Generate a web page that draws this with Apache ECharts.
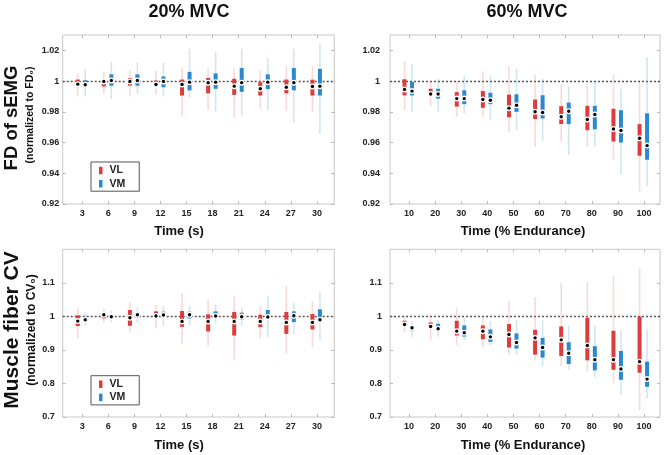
<!DOCTYPE html>
<html>
<head>
<meta charset="utf-8">
<script src="https://cdn.jsdelivr.net/npm/echarts@6/dist/echarts.min.js"></script>
<style>
html,body{margin:0;padding:0;background:#fff;}
#chart{width:666px;height:455px;}
</style>
</head>
<body>
<div id="chart"></div>
<script>
// ---- Data: each box = [lower whisker, Q1, median, Q3, upper whisker] ----
const time20 = [3, 6, 9, 12, 15, 18, 21, 24, 27, 30];
const time60 = [10, 20, 30, 40, 50, 60, 70, 80, 90, 100];

const fdTicks = [0.92, 0.94, 0.96, 0.98, 1.00, 1.02];
const cvTicks = [0.7, 0.8, 0.9, 1.0, 1.1];

const fd20VL = [
  [0.990, 0.997, 0.998, 1.001, 1.005],
  [0.992, 0.9965, 0.9998, 1.001, 1.006],
  [0.990, 0.997, 0.9998, 1.002, 1.007],
  [0.991, 0.9965, 0.9978, 1.0004, 1.0065],
  [0.9775, 0.9906, 0.9978, 1.001, 1.009],
  [0.9815, 0.992, 0.999, 1.002, 1.008],
  [0.9765, 0.991, 0.9967, 1.0015, 1.009],
  [0.982, 0.9906, 0.995, 0.9993, 1.007],
  [0.981, 0.992, 0.996, 1.001, 1.0096],
  [0.980, 0.9906, 0.9965, 1.0009, 1.0096]
];
const fd20VM = [
  [0.990, 0.996, 0.9976, 1.0005, 1.008],
  [0.9885, 0.997, 1.0004, 1.0044, 1.0124],
  [0.9917, 0.997, 1.0004, 1.0044, 1.012],
  [0.990, 0.996, 0.9998, 1.003, 1.012],
  [0.9895, 0.994, 0.9993, 1.006, 1.021],
  [0.980, 0.995, 0.9993, 1.005, 1.019],
  [0.9775, 0.993, 0.999, 1.0085, 1.021],
  [0.981, 0.9948, 0.9993, 1.0044, 1.015],
  [0.973, 0.994, 0.999, 1.0085, 1.021],
  [0.9655, 0.9906, 0.9967, 1.008, 1.0244]
];
const fd60VL = [
  [0.9812, 0.9907, 0.9946, 1.0012, 1.0128],
  [0.9838, 0.9907, 0.9916, 0.9950, 0.9999],
  [0.9768, 0.9834, 0.9886, 0.9928, 1.0000],
  [0.9768, 0.9826, 0.9880, 0.9935, 1.0064],
  [0.9668, 0.9765, 0.9824, 0.9912, 1.0100],
  [0.9574, 0.9753, 0.9800, 0.9880, 1.0040],
  [0.9607, 0.9720, 0.9768, 0.9837, 0.9980],
  [0.9574, 0.9680, 0.9750, 0.9839, 0.9980],
  [0.9488, 0.9607, 0.9688, 0.9820, 1.0043],
  [0.9280, 0.9514, 0.9628, 0.9720, 0.9990]
];
const fd60VM = [
  [0.9800, 0.9907, 0.9935, 0.9994, 1.0110],
  [0.9800, 0.9886, 0.9916, 0.9950, 1.0015],
  [0.9790, 0.9850, 0.9886, 0.9940, 1.0037],
  [0.9745, 0.9850, 0.9875, 0.9924, 1.0037],
  [0.9680, 0.9800, 0.9843, 0.9914, 1.0080],
  [0.9610, 0.9757, 0.9796, 0.9908, 1.0015],
  [0.9520, 0.9720, 0.9804, 0.9860, 0.9966],
  [0.9574, 0.9686, 0.9783, 0.9839, 0.9994],
  [0.9390, 0.9600, 0.9678, 0.9810, 0.9950],
  [0.9316, 0.9488, 0.9580, 0.9790, 1.0155]
];
const cv20VL = [
  [0.935, 0.971, 0.986, 1.003, 1.025],
  [0.982, 0.994, 1.005, 1.010, 1.022],
  [0.955, 0.972, 0.996, 1.019, 1.042],
  [0.964, 0.994, 1.001, 1.015, 1.034],
  [0.918, 0.969, 0.985, 1.016, 1.068],
  [0.911, 0.955, 0.985, 1.006, 1.050],
  [0.869, 0.943, 0.985, 1.013, 1.060],
  [0.934, 0.968, 0.985, 1.005, 1.030],
  [0.889, 0.948, 0.982, 1.013, 1.091],
  [0.909, 0.961, 0.982, 1.007, 1.045]
];
const cv20VM = [
  [0.972, 0.987, 0.990, 0.999, 1.012],
  [0.982, 0.994, 0.999, 1.006, 1.017],
  [0.982, 0.997, 1.005, 1.010, 1.027],
  [0.972, 0.996, 1.004, 1.014, 1.032],
  [0.972, 0.994, 1.005, 1.014, 1.032],
  [0.978, 0.999, 1.001, 1.015, 1.036],
  [0.972, 0.990, 0.999, 1.011, 1.027],
  [0.939, 0.997, 0.998, 1.019, 1.060],
  [0.945, 0.983, 1.002, 1.015, 1.041],
  [0.929, 0.988, 0.990, 1.021, 1.073]
];
const cv60VL = [
  [0.953, 0.972, 0.976, 0.987, 1.002],
  [0.931, 0.963, 0.970, 0.982, 1.002],
  [0.914, 0.943, 0.956, 0.987, 1.026],
  [0.909, 0.932, 0.956, 0.973, 0.999],
  [0.885, 0.907, 0.946, 0.977, 1.046],
  [0.868, 0.886, 0.936, 0.960, 1.058],
  [0.853, 0.882, 0.930, 0.970, 1.100],
  [0.835, 0.869, 0.913, 0.996, 1.102],
  [0.801, 0.841, 0.871, 0.957, 1.120],
  [0.721, 0.832, 0.865, 1.000, 1.145]
];
const cv60VM = [
  [0.939, 0.958, 0.966, 0.970, 0.985],
  [0.939, 0.960, 0.963, 0.978, 0.990],
  [0.929, 0.940, 0.951, 0.973, 0.995],
  [0.913, 0.924, 0.939, 0.961, 0.985],
  [0.886, 0.904, 0.922, 0.949, 0.990],
  [0.851, 0.877, 0.907, 0.936, 0.990],
  [0.841, 0.858, 0.890, 0.923, 0.973],
  [0.819, 0.839, 0.871, 0.911, 0.973],
  [0.767, 0.811, 0.843, 0.897, 0.958],
  [0.756, 0.790, 0.813, 0.865, 0.963]
];

// ---- Styling ----
const FONT = '"Liberation Sans", Arial, Helvetica, sans-serif';
const RED = '#dc3c3c', RED_LIGHT = 'rgba(235,120,120,0.28)';
const BLUE = '#2b88cc', BLUE_LIGHT = 'rgba(90,165,220,0.28)';
const FRAME = '#c8c8c8';

const panels = [
  {grid:{left:62.7, top:35, width:271.6, height:169}, x:time20, xmin:0.75, xmax:32, ymin:0.92, ymax:1.03, yt:fdTicks, vl:fd20VL, vm:fd20VM, lm:3.5},
  {grid:{left:390, top:35, width:270, height:169}, x:time60, xmin:2.72, xmax:106.1, ymin:0.92, ymax:1.03, yt:fdTicks, vl:fd60VL, vm:fd60VM, lm:10},
  {grid:{left:62.7, top:249.3, width:271.6, height:167.7}, x:time20, xmin:0.75, xmax:32, ymin:0.7, ymax:1.2, yt:cvTicks, vl:cv20VL, vm:cv20VM, lm:8},
  {grid:{left:390, top:249.3, width:270, height:167.7}, x:time60, xmin:2.72, xmax:106.1, ymin:0.7, ymax:1.2, yt:cvTicks, vl:cv60VL, vm:cv60VM, lm:8}
];

function fmt(v){ return String(+(+v).toFixed(2)); }

function makeRender(dx, color, light){
  return function(params, api){
    const x = api.value(0);
    const lo = api.coord([x, api.value(1)]);
    const q1 = api.coord([x, api.value(2)]);
    const md = api.coord([x, api.value(3)]);
    const q3 = api.coord([x, api.value(4)]);
    const hi = api.coord([x, api.value(5)]);
    const px = lo[0] + dx;
    return {type:'group', children:[
      {type:'line', shape:{x1:px, y1:hi[1], x2:px, y2:lo[1]}, style:{stroke:light, lineWidth:1.6}},
      {type:'rect', shape:{x:px-2, y:q3[1], width:4, height:q1[1]-q3[1]}, style:{fill:color}},
      {type:'circle', shape:{cx:px, cy:md[1], r:3}, style:{fill:'#fff'}},
      {type:'circle', shape:{cx:px, cy:md[1], r:1.7}, style:{fill:'#000'}}
    ]};
  };
}

const grids = [], xAxes = [], yAxes = [], series = [];
panels.forEach(function(p, i){
  grids.push(Object.assign({show:true, borderColor:FRAME, borderWidth:1, backgroundColor:'#fff'}, p.grid));
  const tickStyle = {show:true, inside:true, length:3, lineStyle:{color:'#b8b8b8', width:1}};
  xAxes.push({type:'value', gridIndex:i, position:'bottom', min:p.xmin, max:p.xmax,
    axisLine:{show:false}, splitLine:{show:false},
    axisTick:Object.assign({customValues:p.x}, tickStyle),
    axisLabel:{customValues:p.x, margin:5, fontSize:9, fontWeight:'bold', color:'#222', fontFamily:FONT}
  });
  xAxes.push({type:'value', gridIndex:i, position:'top', min:p.xmin, max:p.xmax,
    axisLine:{show:false}, splitLine:{show:false},
    axisTick:Object.assign({customValues:p.x}, tickStyle),
    axisLabel:{show:false}
  });
  yAxes.push({type:'value', gridIndex:i, position:'left', min:p.ymin, max:p.ymax,
    axisLine:{show:false}, splitLine:{show:false},
    axisTick:Object.assign({customValues:p.yt}, tickStyle),
    axisLabel:{customValues:p.yt, formatter:fmt, margin:p.lm, fontSize:9, fontWeight:'bold', color:'#222', fontFamily:FONT}
  });
  yAxes.push({type:'value', gridIndex:i, position:'right', min:p.ymin, max:p.ymax,
    axisLine:{show:false}, splitLine:{show:false},
    axisTick:Object.assign({customValues:p.yt}, tickStyle),
    axisLabel:{show:false}
  });
  const vlData = p.x.map(function(t, k){ return [t].concat(p.vl[k]); });
  const vmData = p.x.map(function(t, k){ return [t].concat(p.vm[k]); });
  series.push({
    name:'VL', type:'custom', xAxisIndex:2*i, yAxisIndex:2*i, z:3,
    itemStyle:{color:RED}, renderItem:makeRender(-4.5, RED, RED_LIGHT),
    encode:{x:0, y:[1,2,3,4,5]}, data:vlData, silent:true,
    markLine:{silent:true, symbol:['none','none'], label:{show:false}, z:2,
      lineStyle:{color:'#555', type:[2,2], width:1.4}, data:[{yAxis:1}]}
  });
  series.push({
    name:'VM', type:'custom', xAxisIndex:2*i, yAxisIndex:2*i, z:3,
    itemStyle:{color:BLUE}, renderItem:makeRender(3, BLUE, BLUE_LIGHT),
    encode:{x:0, y:[1,2,3,4,5]}, data:vmData, silent:true
  });
});

function legendAt(top){
  return {
    left:91, top:top, orient:'vertical', icon:'rect', selectedMode:false,
    data:['VL','VM'], itemWidth:3.5, itemHeight:7.5, itemGap:2.2,
    padding:[3, 14, 2, 8], borderColor:'#555', borderWidth:1, backgroundColor:'#fff',
    textStyle:{fontSize:10.5, fontWeight:'bold', color:'#222', fontFamily:FONT, lineHeight:10, padding:[0,0,0,2]}
  };
}

function txt(x, y, text, size, rot){
  return {type:'text', x:x, y:y, rotation:rot ? Math.PI/2 : 0, silent:true,
    style:{text:text, font:'bold ' + size + 'px ' + FONT, fill:'#111',
      align:'center', verticalAlign:'middle', textAlign:'center', textVerticalAlign:'middle'}};
}

const chart = echarts.init(document.getElementById('chart'), null, {renderer:'canvas'});
chart.setOption({
  animation:false,
  backgroundColor:'#fff',
  grid:grids, xAxis:xAxes, yAxis:yAxes, series:series,
  legend:[legendAt(162), legendAt(375.7)],
  graphic:[
    txt(189, 12.5, '20% MVC', 18),
    txt(527, 12.5, '60% MVC', 18),
    txt(179, 231, 'Time (s)', 13),
    txt(523, 231, 'Time (% Endurance)', 13),
    txt(179, 445, 'Time (s)', 13),
    txt(523, 445, 'Time (% Endurance)', 13),
    txt(12, 118, 'FD of sEMG', 18.5, true),
    txt(30, 115, '(normalized to FD\u2080)', 10.5, true),
    txt(12, 330, 'Muscle fiber CV', 21, true),
    txt(31.5, 330, '(normalized to CV\u2080)', 12, true)
  ]
});
</script>
</body>
</html>
